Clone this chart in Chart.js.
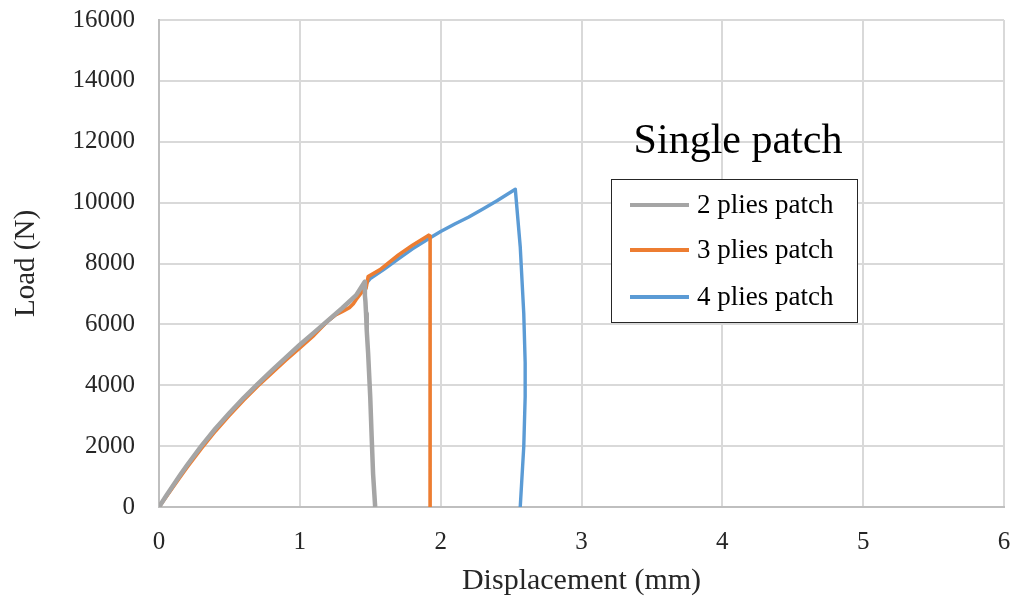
<!DOCTYPE html>
<html>
<head>
<meta charset="utf-8">
<script src="https://cdn.jsdelivr.net/npm/chart.js@4.4.0/dist/chart.umd.min.js"></script>
<style>
  body { margin: 0; background: #fff; }
  #wrap { width: 1013px; height: 601px; }
</style>
</head>
<body>
<div id="wrap"><canvas id="myChart" width="1013" height="601"></canvas></div>
<script>
// displacement (mm) / load (N)
const disp2 = [0, 0.05, 0.1, 0.15, 0.2, 0.3, 0.4, 0.5, 0.6, 0.7, 0.8, 0.9, 1.0, 1.1, 1.2, 1.3, 1.4, 1.461, 1.462, 1.466, 1.47, 1.475, 1.485, 1.5, 1.51, 1.52, 1.535];
const load2 = [0, 360, 710, 1050, 1380, 2000, 2570, 3090, 3580, 4040, 4480, 4910, 5330, 5730, 6130, 6530, 6960, 7400, 6950, 6740, 6360, 5800, 5050, 3600, 2310, 1100, 0];

const disp3 = [0, 0.05, 0.1, 0.15, 0.2, 0.3, 0.4, 0.5, 0.6, 0.7, 0.8, 0.9, 1.0, 1.1, 1.2, 1.25, 1.3, 1.355, 1.38, 1.4, 1.44, 1.47, 1.485, 1.57, 1.7, 1.8, 1.915, 1.925, 1.925];
const load3 = [0, 330, 660, 990, 1310, 1920, 2490, 3010, 3510, 3970, 4400, 4820, 5230, 5640, 6120, 6300, 6420, 6560, 6680, 6820, 7060, 7180, 7570, 7800, 8280, 8600, 8930, 8900, 0];

const disp4 = [0, 0.05, 0.1, 0.15, 0.2, 0.3, 0.4, 0.5, 0.6, 0.7, 0.8, 0.9, 1.0, 1.1, 1.2, 1.3, 1.4, 1.5, 1.6, 1.7, 1.8, 1.92, 2.0, 2.1, 2.2, 2.3, 2.4, 2.53, 2.565, 2.59, 2.6, 2.6, 2.59, 2.565];
const load4 = [0, 350, 700, 1040, 1370, 1980, 2550, 3070, 3570, 4030, 4460, 4880, 5300, 5700, 6100, 6500, 6950, 7500, 7820, 8150, 8480, 8830, 9050, 9300, 9530, 9790, 10060, 10440, 8550, 6360, 4730, 3620, 1980, 0];

const seriesNames = ["2 plies patch", "3 plies patch", "4 plies patch"];
const seriesColors = ["#A5A5A5", "#ED7D31", "#5B9BD5"];
const xTicks = [0, 1, 2, 3, 4, 5, 6];
const yTicks = [0, 2000, 4000, 6000, 8000, 10000, 12000, 14000, 16000];

function toPoints(xs, ys) {
  let pts = [];
  for (let i = 0; i < xs.length; i++) {
    pts.push({ x: xs[i], y: ys[i] });
  }
  return pts;
}

const serif = "'Liberation Serif', 'Times New Roman', serif";

// draws "Single patch" and the boxed legend inside the plot
const boxLegend = {
  id: "boxLegend",
  afterDraw(chart) {
    const ctx = chart.ctx;
    ctx.save();
    ctx.fillStyle = "#000";
    ctx.font = "42px " + serif;
    ctx.textAlign = "center";
    ctx.textBaseline = "alphabetic";
    ctx.fillText("Single patch", 738, 153);

    ctx.fillStyle = "#fff";
    ctx.fillRect(611, 179, 246, 143);
    ctx.strokeStyle = "#262626";
    ctx.lineWidth = 1;
    ctx.strokeRect(611.5, 179.5, 246, 143);

    const rows = [205, 250, 297];
    ctx.font = "27px " + serif;
    ctx.textAlign = "left";
    ctx.textBaseline = "middle";
    for (let i = 0; i < seriesNames.length; i++) {
      ctx.strokeStyle = seriesColors[i];
      ctx.lineWidth = 4;
      ctx.beginPath();
      ctx.moveTo(630, rows[i]);
      ctx.lineTo(689, rows[i]);
      ctx.stroke();
      ctx.fillStyle = "#000";
      ctx.fillText(seriesNames[i], 697, rows[i] + 1);
    }
    ctx.restore();
  },
};

const datasets = [];
const allX = [disp2, disp3, disp4];
const allY = [load2, load3, load4];
const widths = [4.5, 3.6, 3.4];
for (let i = 0; i < 3; i++) {
  datasets.push({
    label: seriesNames[i],
    data: toPoints(allX[i], allY[i]),
    showLine: true,
    borderColor: seriesColors[i],
    backgroundColor: seriesColors[i],
    borderWidth: widths[i],
    borderJoinStyle: "round",
    pointRadius: 0,
    tension: 0,
    fill: false,
  });
}

const ctx = document.getElementById("myChart").getContext("2d");
const myChart = new Chart(ctx, {
  type: "scatter",
  data: { datasets: datasets },
  options: {
    responsive: false,
    animation: false,
    layout: { padding: { top: 20, right: 9, left: 5, bottom: 0 } },
    plugins: {
      legend: { display: false },
      tooltip: { enabled: false },
    },
    scales: {
      x: {
        type: "linear",
        min: 0,
        max: 6,
        afterBuildTicks: (scale) => {
          scale.ticks = xTicks.map((v) => ({ value: v }));
        },
        afterFit: (scale) => {
          scale.height = 94;
        },
        ticks: {
          color: "#262626",
          font: { family: serif, size: 25 },
          padding: 2,
        },
        // invisible tick marks give the label gap without widening the padding
        grid: { color: "#d9d9d9", lineWidth: 2, drawTicks: true, tickLength: 18, tickColor: "rgba(0,0,0,0)" },
        border: { color: "#bfbfbf", width: 2 },
        title: {
          display: true,
          text: "Displacement (mm)",
          color: "#262626",
          font: { family: serif, size: 30 },
          padding: { top: 4, bottom: 2 },
        },
      },
      y: {
        type: "linear",
        min: 0,
        max: 16000,
        afterBuildTicks: (scale) => {
          scale.ticks = yTicks.map((v) => ({ value: v }));
        },
        afterFit: (scale) => {
          scale.width = 154;
        },
        ticks: {
          color: "#262626",
          font: { family: serif, size: 25 },
          padding: 4,
          callback: (v) => String(v),
        },
        grid: { color: "#d9d9d9", lineWidth: 2, drawTicks: true, tickLength: 20, tickColor: "rgba(0,0,0,0)" },
        border: { color: "#bfbfbf", width: 2 },
        title: {
          display: true,
          text: "Load (N)",
          color: "#262626",
          font: { family: serif, size: 29 },
          padding: { top: 4, bottom: 0 },
        },
      },
    },
  },
  plugins: [boxLegend],
});
</script>
</body>
</html>
